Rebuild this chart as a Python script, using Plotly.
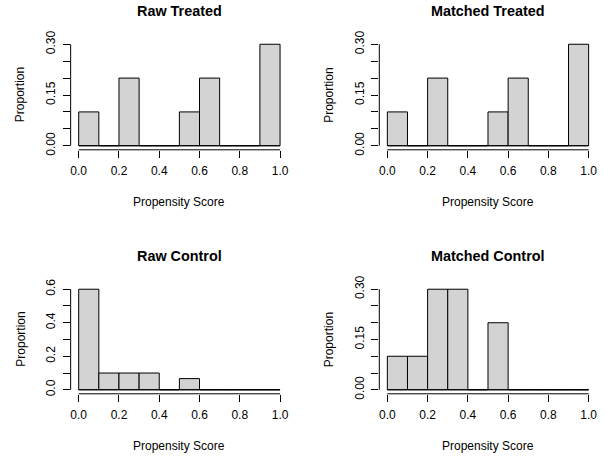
import plotly.graph_objects as go

# ---------------- data ----------------
bin_edges = [0.0, 0.1, 0.2, 0.3, 0.4, 0.5, 0.6, 0.7, 0.8, 0.9, 1.0]
raw_treated = [0.1, 0.0, 0.2, 0.0, 0.0, 0.1, 0.2, 0.0, 0.0, 0.3]
matched_treated = [0.1, 0.0, 0.2, 0.0, 0.0, 0.1, 0.2, 0.0, 0.0, 0.3]
raw_control = [0.6, 0.1, 0.1, 0.1, 0.0, 0.0667, 0.0, 0.0, 0.0, 0.0]
matched_control = [0.1, 0.1, 0.3, 0.3, 0.0, 0.2, 0.0, 0.0, 0.0, 0.0]

panel_titles = ["Raw Treated", "Matched Treated", "Raw Control", "Matched Control"]
x_label = "Propensity Score"
y_label = "Proportion"

x_ticks = [0.0, 0.2, 0.4, 0.6, 0.8, 1.0]
x_tick_text = ["0.0", "0.2", "0.4", "0.6", "0.8", "1.0"]
y_ticks_small = [0.0, 0.05, 0.10, 0.15, 0.20, 0.25, 0.30]
y_tick_text_small = ["0.00", "", "", "0.15", "", "", "0.30"]
y_ticks_large = [0.0, 0.1, 0.2, 0.3, 0.4, 0.5, 0.6]
y_tick_text_large = ["0.0", "", "0.2", "", "0.4", "", "0.6"]

series = [raw_treated, matched_treated, raw_control, matched_control]
y_tick_sets = [
    (y_ticks_small, y_tick_text_small),
    (y_ticks_small, y_tick_text_small),
    (y_ticks_large, y_tick_text_large),
    (y_ticks_small, y_tick_text_small),
]

# ---------------- layout geometry (pixels) ----------------
W, H = 603, 457
col_px = [(70.65, 288.1), (379.3, 596.7)]
row_px = [(40.2, 149.8), (285.2, 393.8)]
FONT = "Liberation Sans, Arial, Helvetica, sans-serif"

def px_x(p):
    return p / W

def px_y(p):
    return 1 - p / H

fig = go.Figure()
layout = dict(
    template="none",
    width=W, height=H, autosize=False,
    margin=dict(l=0, r=0, t=0, b=0, pad=0, autoexpand=False),
    paper_bgcolor="white", plot_bgcolor="white",
    showlegend=False,
    font=dict(family=FONT, size=12, color="black"),
)
annotations = []
shapes = []

centers = [(bin_edges[i] + bin_edges[i + 1]) / 2 for i in range(len(bin_edges) - 1)]
widths = [bin_edges[i + 1] - bin_edges[i] for i in range(len(bin_edges) - 1)]

for k in range(4):
    r, c = divmod(k, 2)
    idx = "" if k == 0 else str(k + 1)
    xa, ya = "x" + idx, "y" + idx
    vals = series[k]
    yt, ytt = y_tick_sets[k]
    ymax = max(yt)
    xmin, xmax = min(x_ticks), max(x_ticks)
    xpad = 0.04 * (xmax - xmin)
    ypad = 0.04 * ymax

    # zero baseline along all bins (R draws zero-height bins)
    fig.add_trace(go.Scatter(
        x=bin_edges, y=[0] * len(bin_edges), mode="lines",
        line=dict(color="black", width=1), xaxis=xa, yaxis=ya,
        hoverinfo="skip"))
    fig.add_trace(go.Bar(
        x=centers, y=vals, width=widths,
        marker=dict(color="#D3D3D3", line=dict(color="black", width=1)),
        xaxis=xa, yaxis=ya))

    x0p, x1p = col_px[c]
    y0p, y1p = row_px[r]
    layout["xaxis" + idx] = dict(
        domain=[px_x(x0p), px_x(x1p)], anchor=ya, automargin=False,
        range=[xmin - xpad, xmax + xpad],
        tickvals=x_ticks, ticktext=x_tick_text,
        ticks="outside", ticklen=7, tickwidth=1, tickcolor="black",
        showline=False, showgrid=False, zeroline=False,
        tickfont=dict(family=FONT, size=12, color="black"),
        ticklabelstandoff=3,
    )
    layout["yaxis" + idx] = dict(
        domain=[px_y(y1p), px_y(y0p)], anchor=xa, automargin=False,
        range=[-ypad, ymax + ypad],
        tickvals=yt, ticktext=ytt, tickangle=-90,
        ticks="outside", ticklen=7, tickwidth=1, tickcolor="black",
        showline=False, showgrid=False, zeroline=False,
        tickfont=dict(family=FONT, size=12, color="black"),
        ticklabelstandoff=3,
    )
    # axis lines spanning the tick range only (R style)
    shapes.append(dict(type="line", xref=xa, yref=ya + " domain",
                       x0=xmin, x1=xmax, y0=0, y1=0,
                       line=dict(color="black", width=1)))
    shapes.append(dict(type="line", xref=xa + " domain", yref=ya,
                       x0=0, x1=0, y0=min(yt), y1=ymax,
                       line=dict(color="black", width=1)))

    cx = (x0p + x1p) / 2
    cy = (y0p + y1p) / 2
    title_y = 11 if r == 0 else 255.5
    annotations.append(dict(
        text="<b>" + panel_titles[k] + "</b>", xref="paper", yref="paper",
        x=px_x(cx), y=px_y(title_y), xanchor="center", yanchor="middle",
        showarrow=False, font=dict(family=FONT, size=14.4, color="black")))
    annotations.append(dict(
        text=x_label, xref="paper", yref="paper",
        x=px_x(cx), y=px_y(y1p + 52.5), xanchor="center", yanchor="middle",
        showarrow=False, font=dict(family=FONT, size=12, color="black")))
    annotations.append(dict(
        text=y_label, xref="paper", yref="paper", textangle=-90,
        x=px_x(x0p - 50.5), y=px_y(cy), xanchor="center", yanchor="middle",
        showarrow=False, font=dict(family=FONT, size=12, color="black")))

layout["annotations"] = annotations
layout["shapes"] = shapes
fig.update_layout(**layout)

post = (
    "document.documentElement.style.margin='0';"
    "document.body.style.margin='0';document.body.style.padding='0';"
    "document.body.style.overflow='hidden';"
    "var gd=document.getElementById('{plot_id}');"
    "gd.style.position='absolute';gd.style.left='0px';gd.style.top='0px';"
)
fig.write_html("out.html", post_script=post,
               config={"displayModeBar": False, "responsive": False})
